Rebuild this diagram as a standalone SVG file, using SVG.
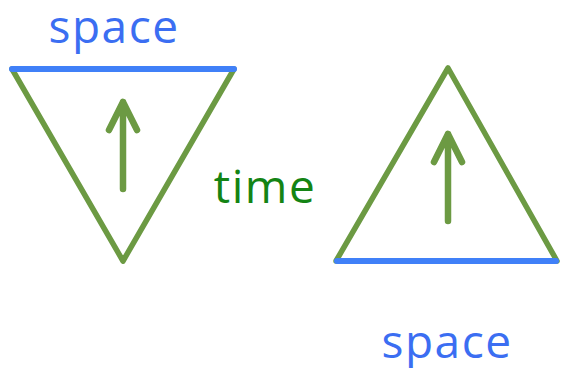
<svg xmlns="http://www.w3.org/2000/svg" width="562" height="368" viewBox="0 0 562 368">
<style>
.tri{fill:none;stroke:#6c9a43;stroke-width:5.5;stroke-linejoin:round;stroke-linecap:round}
.base{stroke:#4080f8;stroke-width:6;stroke-linecap:round}
.arr{fill:none;stroke:#6c9a43;stroke-width:6.5;stroke-linecap:round;stroke-linejoin:round}
.sp{font-family:"Open Sans","Noto Sans",sans-serif;font-size:46px;letter-spacing:1.5px;fill:#3b6ef2;text-anchor:middle}
.tm{font-family:"Open Sans","Noto Sans",sans-serif;font-size:46px;letter-spacing:1.5px;fill:#148414;text-anchor:middle}
</style>
<g id="left-triangle">
<polygon class="tri" points="12,69 234,69 123,261"/>
<line class="base" x1="12" y1="69" x2="234" y2="69"/>
<path class="arr" d="M123,189 V102 M109,130 L123,102 L137,130"/>
</g>
<g id="right-triangle">
<polygon class="tri" points="336,261 448,68 557,261"/>
<line class="base" x1="337" y1="261" x2="556" y2="261"/>
<path class="arr" d="M448,221 V134 M434,162 L448,134 L462,162"/>
</g>
<g id="labels">
<text class="sp" x="114" y="43">space</text>
<text class="tm" x="265" y="203">time</text>
<text class="sp" x="447" y="358">space</text>
</g>
</svg>
